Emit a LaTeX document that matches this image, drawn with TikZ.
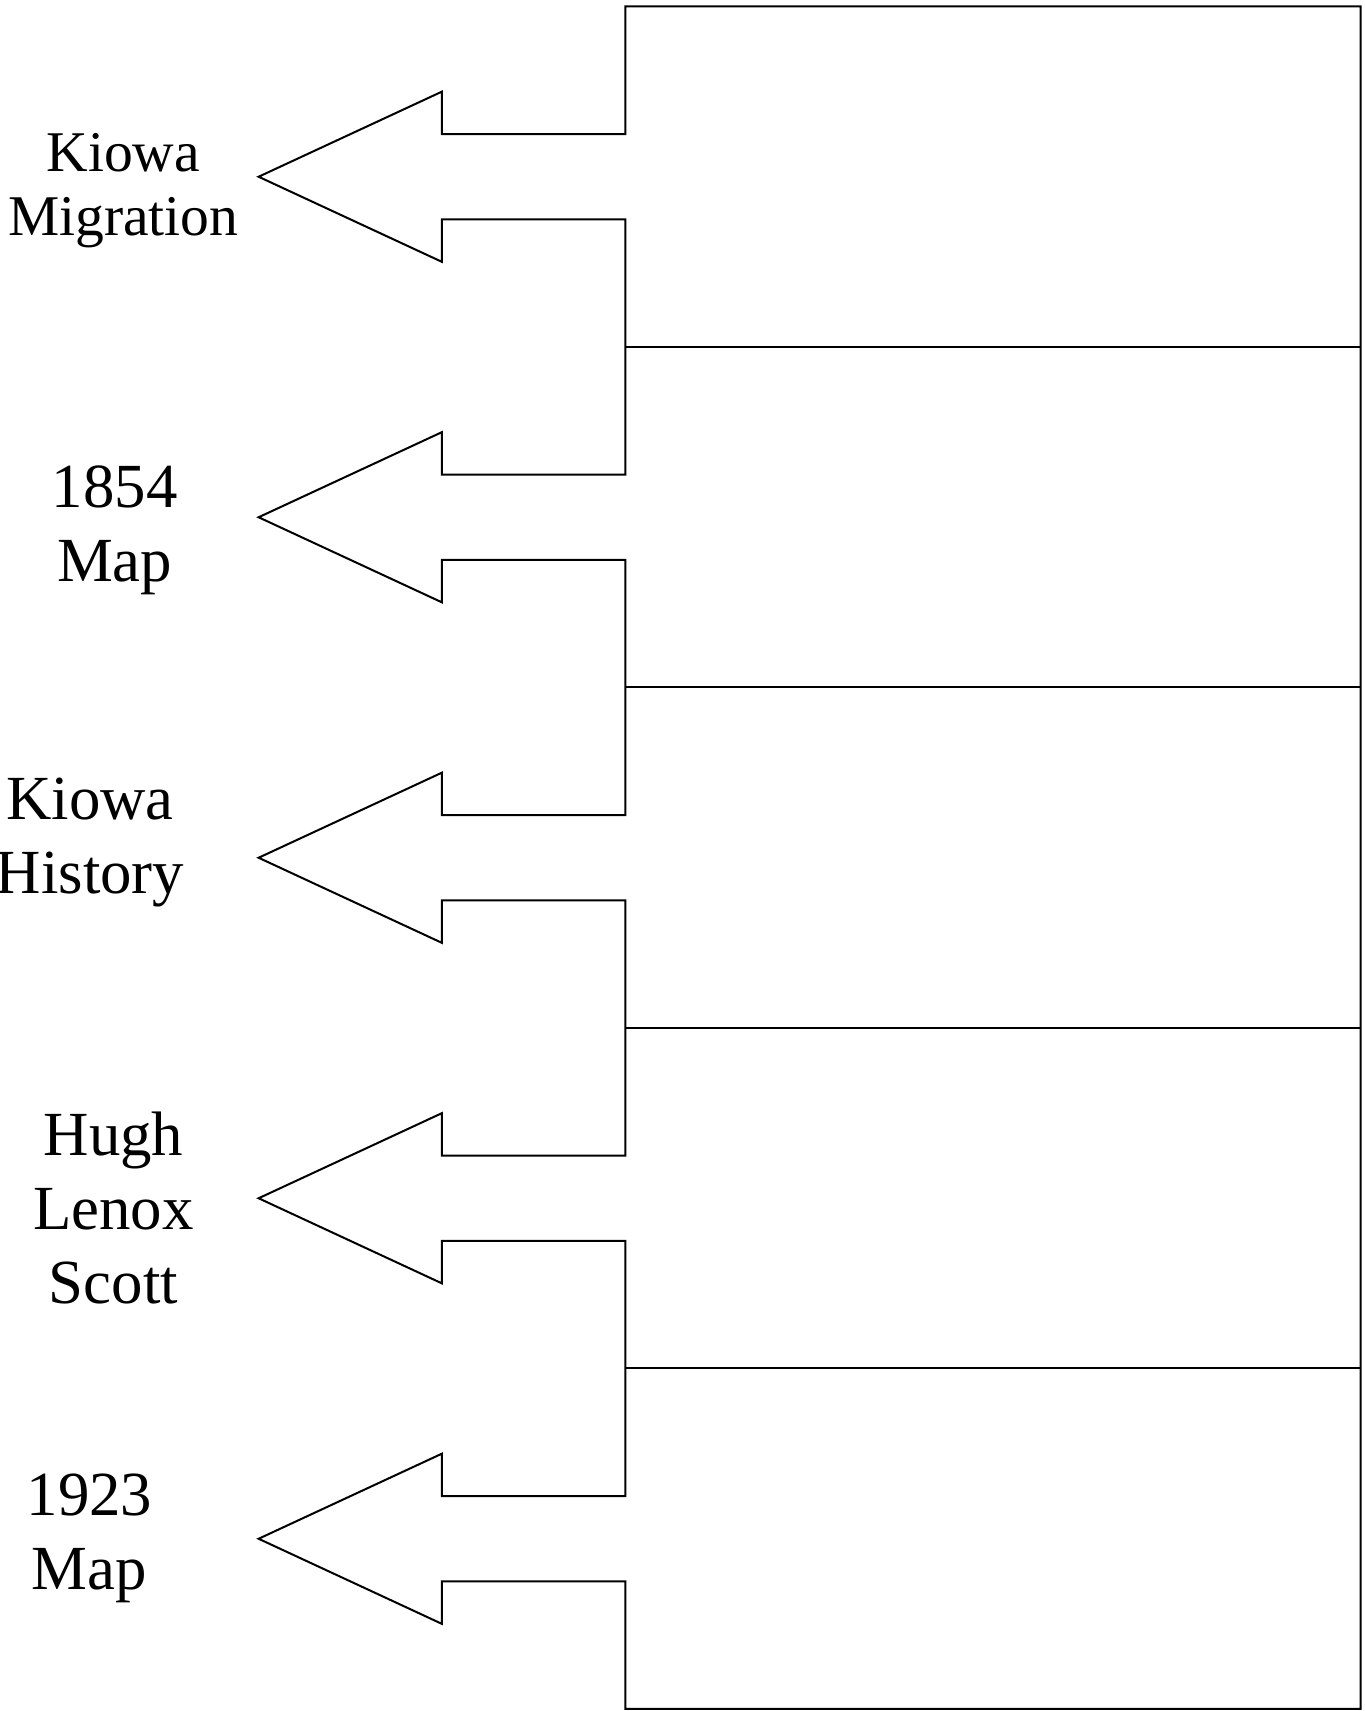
\documentclass[tikz,border=0pt]{standalone}
\usepackage{fontspec}
\setmainfont{Liberation Serif}
\begin{document}
\begin{tikzpicture}[x=0.5pt,y=-0.5pt,
  outline/.style={draw=black,line width=1pt,line join=miter},
  smalllabel/.style={align=center,inner sep=0pt,font=\fontsize{28.8}{32}\selectfont},
  biglabel/.style={align=center,inner sep=0pt,font=\fontsize{31.4}{37}\selectfont}]
\useasboundingbox (0,0) rectangle (1364,1711);
% frame geometry
\def\xL{625.3}\def\xR{1360.7}\def\yT{6.5}\def\yB{1708.8}\def\rowh{340.46}
% arrow geometry: tip, head base, shaft and head half heights
\def\xTip{258.6}\def\xHead{441.9}\def\shaft{42.6}\def\head{85.1}
% outer frame whose left edge carries the five arrows
\draw[outline] (\xL,\yT) -- (\xR,\yT) -- (\xR,\yB) -- (\xL,\yB)
  foreach \c in {1538.75,1198.25,857.75,517.25,176.75} {
    -- (\xL,\c+\shaft) -- (\xHead,\c+\shaft) -- (\xHead,\c+\head)
    -- (\xTip,\c) -- (\xHead,\c-\head) -- (\xHead,\c-\shaft) -- (\xL,\c-\shaft)
  } -- cycle;
% row dividers
\foreach \k in {1,...,4}
  \draw[outline] (\xL,\yT+\k*\rowh) -- (\xR,\yT+\k*\rowh);
% labels
\node[smalllabel] (migration) at (123.3,190.5) {Kiowa\\Migration};
\node[biglabel] (map1854) at (114.6,530.5) {1854\\Map};
\node[biglabel] (history) at (90,842.5) {Kiowa\\History};
\node[biglabel] (scott) at (113.5,1208) {Hugh\\Lenox\\Scott};
\node[biglabel] (map1923) at (89.5,1538.5) {1923\\Map};
\end{tikzpicture}
\end{document}
